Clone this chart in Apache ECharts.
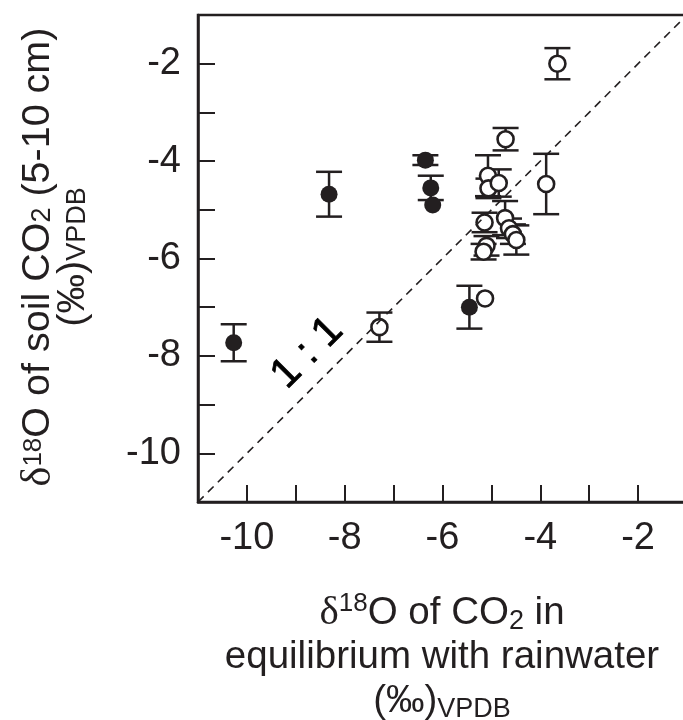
<!DOCTYPE html>
<html><head><meta charset="utf-8">
<script src="https://cdn.jsdelivr.net/npm/echarts@6/dist/echarts.min.js"></script>
<style>html,body{margin:0;padding:0;background:#fff}#c{width:683px;height:720px}</style>
</head><body><div id="c"></div>
<script>
const INK = '#231f20';
const FONT = 'Liberation Sans';
const xTickLabels = [-10, -8, -6, -4, -2];
const yTickLabels = [-10, -8, -6, -4, -2];
// filled circles
const filledX = [-10.27, -8.32, -6.35, -6.24, -6.20, -5.45];
const filledY = [-7.73, -4.68, -3.98, -4.55, -4.90, -7.00];
const filledErr = [0.38, 0.46, 0.10, 0.25, 0, 0.44];
// open circles
const openX = [-3.65, -4.71, -3.88, -5.07, -5.06, -4.85, -4.72, -5.14, -4.64, -4.56, -4.49, -5.10, -5.16, -5.13, -7.29];
const openY = [-2.00, -3.55, -4.47, -4.30, -4.56, -4.45, -5.17, -5.26, -5.38, -5.50, -5.62, -5.74, -5.86, -6.82, -7.41];
const openErr = [0.32, 0.23, 0.62, 0.42, 0.20, 0.28, 0.35, 0.20, 0.20, 0.20, 0.30, 0.20, 0.16, 0, 0.30];
const oneToOne = [[-11, -11], [-1, -1]];
const oneToOneLabel = '1 : 1';
const oneToOneLabelAt = [[-8.76, -7.94]];

const chart = echarts.init(document.getElementById('c'), null, {renderer: 'canvas'});

function errRender(params, api) {
  const x = api.value(0), y = api.value(1), e = api.value(2);
  if (!e) return null;
  const top = api.coord([x, y + e]);
  const bot = api.coord([x, y - e]);
  const hw = 13;
  const st = {stroke: INK, lineWidth: 2.5};
  return {type: 'group', children: [
    {type: 'line', shape: {x1: top[0], y1: top[1], x2: bot[0], y2: bot[1]}, style: st},
    {type: 'line', shape: {x1: top[0] - hw, y1: top[1], x2: top[0] + hw, y2: top[1]}, style: st},
    {type: 'line', shape: {x1: bot[0] - hw, y1: bot[1], x2: bot[0] + hw, y2: bot[1]}, style: st}
  ]};
}

chart.setOption({
  animation: false,
  backgroundColor: '#fff',
  grid: {left: 198, top: 15, width: 489, height: 487, show: true, borderColor: INK, borderWidth: 2.5,
         containLabel: false, outerBoundsMode: 'none'},
  xAxis: {
    type: 'value', min: -11, max: -1, interval: 1,
    axisLine: {show: true, lineStyle: {color: INK, width: 2.5}},
    axisTick: {show: true, inside: true, length: 17, lineStyle: {color: INK, width: 2}},
    axisLabel: {formatter: v => xTickLabels.includes(v) ? String(v) : '', fontSize: 38, fontFamily: FONT, color: INK, margin: 18},
    splitLine: {show: false}
  },
  yAxis: {
    type: 'value', min: -11, max: -1, interval: 1,
    axisLine: {show: true, lineStyle: {color: INK, width: 2.5}},
    axisTick: {show: true, inside: true, length: 17, lineStyle: {color: INK, width: 2}},
    axisLabel: {formatter: v => yTickLabels.includes(v) ? String(v) : '', fontSize: 38, fontFamily: FONT, color: INK, margin: 17},
    splitLine: {show: false}
  },
  graphic: [
    {type: 'text', x: 442, y: 657, z: 10, style: {
      text: '{d|δ}{sup|18}{t|O of CO}{sub|2}{t| in}\n{t|equilibrium with rainwater}\n{t|(‰)}{sub|VPDB}',
      align: 'center', verticalAlign: 'middle', fill: INK, fontFamily: FONT, fontSize: 38.5, lineHeight: 44,
      rich: {
        d: {fontFamily: 'Liberation Serif', fontSize: 41, fill: INK, lineHeight: 44},
        sup: {fontFamily: FONT, fontSize: 26, fill: INK, verticalAlign: 'top', lineHeight: 30},
        sub: {fontFamily: FONT, fontSize: 27, fill: INK, verticalAlign: 'bottom', lineHeight: 26},
        t: {fontFamily: FONT, fontSize: 38.5, fill: INK, lineHeight: 44}
      }
    }},
    {type: 'text', x: 56, y: 257, rotation: Math.PI / 2, z: 10, style: {
      text: '{d|δ}{sup|18}{t|O of soil CO}{sub|2}{t| (5-10 cm)}\n{t|(‰)}{sub|VPDB}',
      align: 'center', verticalAlign: 'middle', fill: INK, fontFamily: FONT, fontSize: 39.5, lineHeight: 35,
      rich: {
        d: {fontFamily: 'Liberation Serif', fontSize: 42, fill: INK, lineHeight: 35},
        sup: {fontFamily: FONT, fontSize: 26, fill: INK, verticalAlign: 'top', lineHeight: 28},
        sub: {fontFamily: FONT, fontSize: 27, fill: INK, verticalAlign: 'bottom', lineHeight: 24},
        t: {fontFamily: FONT, fontSize: 39.5, fill: INK, lineHeight: 35}
      }
    }}
  ],
  series: [
    {type: 'custom', renderItem: errRender, z: 2, silent: true,
     data: filledX.map((x, i) => [x, filledY[i], filledErr[i]])},
    {type: 'custom', renderItem: errRender, z: 2, silent: true,
     data: openX.map((x, i) => [x, openY[i], openErr[i]])},
    {type: 'scatter', z: 3, symbol: 'circle', symbolSize: 16,
     itemStyle: {color: '#fff', borderColor: INK, borderWidth: 2.6, opacity: 1},
     data: openX.map((x, i) => [x, openY[i]])},
    {type: 'scatter', z: 4, symbol: 'circle', symbolSize: 17,
     itemStyle: {color: INK, opacity: 1},
     data: filledX.map((x, i) => [x, filledY[i]])},
    {type: 'line', z: 5, symbol: 'none', silent: true,
     lineStyle: {color: INK, width: 1.6, type: [8, 6]},
     data: oneToOne},
    {type: 'scatter', z: 6, symbol: 'circle', symbolSize: 0, silent: true,
     itemStyle: {color: INK, opacity: 1},
     label: {show: true, position: 'inside', rotate: 45, formatter: oneToOneLabel, opacity: 1,
             fontFamily: FONT, fontSize: 42, color: '#000', textBorderColor: '#000', textBorderWidth: 0.8},
     data: oneToOneLabelAt}
  ]
});
</script></body></html>
